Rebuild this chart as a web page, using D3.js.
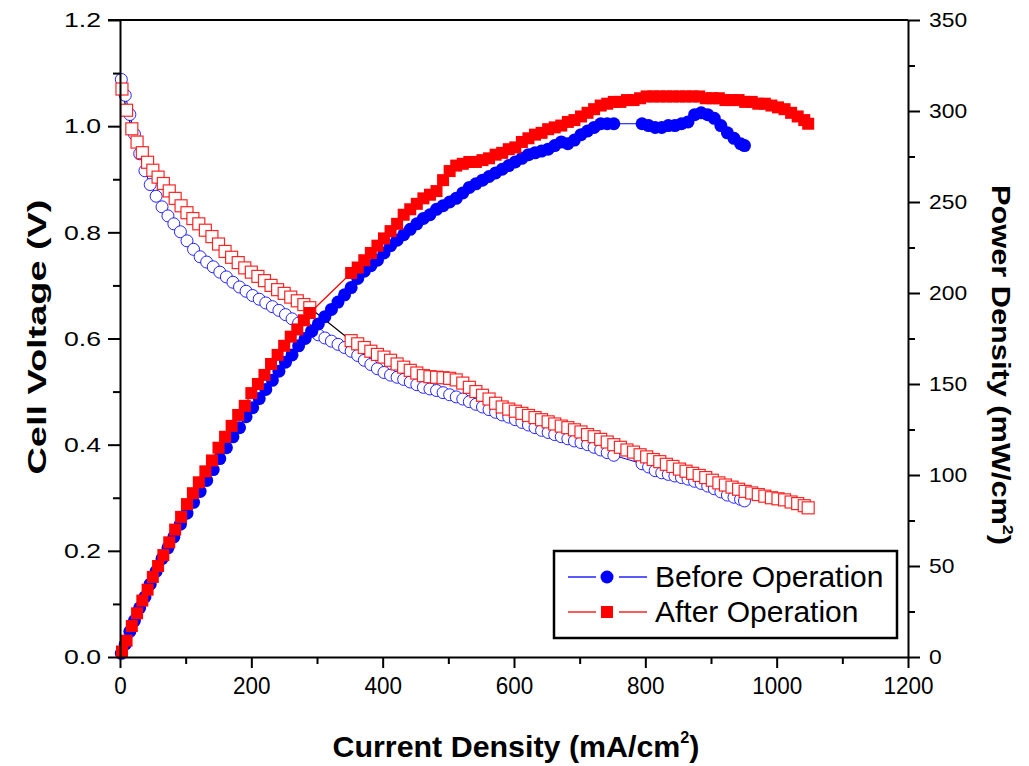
<!DOCTYPE html>
<html><head><meta charset="utf-8">
<script src="https://cdn.jsdelivr.net/npm/d3@7"></script>
<style>body{margin:0;background:#fff}svg{display:block}</style>
</head><body>
<svg id="c" width="1029" height="766"></svg>
<script>
// ---- data ----
const xTicks = [0,200,400,600,800,1000,1200];
const yLeftTicks = [0,0.2,0.4,0.6,0.8,1.0,1.2];
const yRightTicks = [0,50,100,150,200,250,300,350];
const seriesNames = ["Before Operation","After Operation"];

const beforeI = [2,8,15,22,30,38,46,55,64,73,82,92,102,112,122,132,142,152,162,172,182,192,202,212,222,232,242,252,262,272,282,292,302,312,322,332,342,352,362,372,382,392,402,412,422,432,442,452,462,472,482,492,502,512,522,532,542,552,562,572,582,592,602,612,622,632,642,652,662,672,682,692,702,712,722,732,742,752,795,805,815,825,835,845,855,865,875,885,895,905,915,925,935,945,951];
const beforeV = [1.088,1.058,1.022,0.985,0.948,0.916,0.890,0.868,0.848,0.831,
0.816,0.801,0.784,0.768,0.754,0.744,0.735,0.725,0.716,0.706,
0.697,0.689,0.681,0.674,0.667,0.660,0.653,0.645,0.637,0.629,
0.621,0.614,0.607,0.601,0.595,0.589,0.583,0.576,0.568,0.559,
0.551,0.543,0.536,0.531,0.527,0.523,0.518,0.513,0.508,0.505,
0.502,0.498,0.494,0.490,0.486,0.481,0.476,0.471,0.466,0.461,
0.456,0.452,0.447,0.442,0.437,0.432,0.427,0.423,0.419,0.415,
0.411,0.407,0.404,0.400,0.395,0.390,0.385,0.380,
0.364,0.358,0.351,0.347,0.344,0.341,0.338,0.335,0.331,0.327,
0.322,0.317,0.311,0.305,0.301,0.297,0.294];
const beforeP = [2,7,14,20,27,33,40,47,54,60,
66,73,79,85,91,97,103,109,115,121,
126,132,137,142,147,152,157,162,166,171,
175,179,183,187,191,195,199,203,208,212,
215,218,222,226,229,232,235,238,241,243,
246,248,250,252,255,258,260,262,264,266,
268,270,272,274,276,277,278,279,281,283,
282,284,287,289,291,293,293,293,
293,292,291,291,292,292,293,294,298,299,
298,296,292,288,285,282,281];

const afterI = [3,10,18,26,34,42,50,58,66,75,84,93,102,111,120,130,140,150,160,170,180,190,200,210,220,230,240,250,260,270,280,289,352,362,372,382,392,402,412,422,432,442,452,462,472,482,492,502,512,522,532,542,552,562,572,582,592,602,612,622,632,642,652,662,672,682,692,702,712,722,732,742,752,762,772,782,792,802,812,822,832,842,852,862,872,882,892,902,912,922,932,942,952,962,972,982,992,1002,1012,1022,1032,1042,1048];
const afterV = [1.070,1.030,0.995,0.970,0.950,0.932,0.917,0.904,0.892,0.878,
0.864,0.850,0.837,0.826,0.816,0.804,0.792,0.778,0.764,0.753,
0.743,0.733,0.725,0.717,0.709,0.700,0.692,0.685,0.678,0.671,
0.664,0.658,
0.596,0.590,0.583,0.576,0.570,0.565,0.559,0.552,
0.546,0.540,0.535,0.530,0.528,0.527,0.526,0.525,0.522,0.516,
0.508,0.500,0.493,0.486,0.478,0.471,0.467,0.463,0.459,0.455,
0.451,0.447,0.443,0.439,0.435,0.432,0.428,0.424,0.419,0.415,
0.410,0.405,0.400,0.395,0.390,0.386,0.381,0.377,0.372,0.368,
0.363,0.359,0.354,0.350,0.346,0.342,0.338,0.333,0.328,0.324,
0.320,0.316,0.312,0.309,0.306,0.303,0.300,0.298,0.296,0.292,
0.289,0.285,0.281];
const afterP = [3,9,17,24,31,37,44,50,56,63,
70,77,84,90,96,102,108,115,121,127,
133,138,145,150,155,161,166,171,176,180,
185,189,
211,214,218,222,226,230,234,238,
243,246,249,252,254,256,262,267,270,271,
272,272,273,274,276,277,279,280,283,285,
287,288,290,291,292,294,295,297,299,301,
303,304,305,305,306,306,307,308,308,308,
308,308,308,308,308,308,307,307,307,306,
306,306,305,305,304,304,303,302,301,299,
297,295,293];

// ---- layout ----
const svg = d3.select("#c");
svg.append("rect").attr("width",1029).attr("height",766).attr("fill","#fff");
const x = d3.scaleLinear().domain([0,1200]).range([120,908]);
const yL = d3.scaleLinear().domain([0,1.2]).range([657,20]);
const yR = d3.scaleLinear().domain([0,350]).range([657,20]);
const BLUE = "#0000ff", RED = "#ff0000";
const font = "'Liberation Sans', Arial, sans-serif";

const zipB = beforeI.map((c,i)=>({c, v:beforeV[i], p:beforeP[i]}));
const zipA = afterI.map((c,i)=>({c, v:afterV[i], p:afterP[i]}));

const g = svg.append("g");
const lineV = d3.line().x(d=>x(d.c)).y(d=>yL(d.v));
const lineP = d3.line().x(d=>x(d.c)).y(d=>yR(d.p));
g.append("path").datum(zipB).attr("d",lineV).attr("fill","none").attr("stroke",BLUE).attr("stroke-width",1);
g.append("path").datum(zipA).attr("d",lineV).attr("fill","none").attr("stroke","#000").attr("stroke-width",1.2);

// open markers (voltage)
g.append("g").selectAll("circle").data(zipB).join("circle")
  .attr("cx",d=>x(d.c)).attr("cy",d=>yL(d.v)).attr("r",6)
  .attr("fill","#fff").attr("stroke",BLUE).attr("stroke-width",1).attr("stroke-opacity",0.85);
g.append("g").selectAll("rect").data(zipA).join("rect")
  .attr("x",d=>x(d.c)-6).attr("y",d=>yL(d.v)-6).attr("width",12).attr("height",12)
  .attr("fill","#fff").attr("stroke",RED).attr("stroke-width",1.2).attr("stroke-opacity",0.85);

// power
g.append("path").datum(zipB).attr("d",lineP).attr("fill","none").attr("stroke",BLUE).attr("stroke-width",1);
g.append("path").datum(zipA).attr("d",lineP).attr("fill","none").attr("stroke",RED).attr("stroke-width",1.2);
g.append("g").selectAll("circle").data(zipB).join("circle")
  .attr("cx",d=>x(d.c)).attr("cy",d=>yR(d.p)).attr("r",6.5).attr("fill",BLUE);
g.append("g").selectAll("rect").data(zipA).join("rect")
  .attr("x",d=>x(d.c)-6).attr("y",d=>yR(d.p)-6).attr("width",12).attr("height",12).attr("fill",RED);

// ---- axes ----
function styleAxis(sel){
  sel.select(".domain").attr("stroke","#000").attr("stroke-width",2);
  sel.selectAll(".tick line").attr("stroke","#000").attr("stroke-width",2);
}
function minorStyle(s){ s.select(".domain").remove(); s.selectAll(".tick line").attr("stroke","#000").attr("stroke-width",2); }
const minorX = [100,300,500,700,900,1100];
const minorL = [0.1,0.3,0.5,0.7,0.9,1.1];
const minorR = [25,75,125,175,225,275,325];

// bottom
const ax = svg.append("g").attr("transform","translate(0,657)")
  .call(d3.axisBottom(x).tickValues(xTicks).tickSize(11).tickSizeOuter(0).tickFormat(d3.format("d")));
styleAxis(ax);
ax.selectAll("text").attr("font-family",font).attr("font-size",24).attr("fill","#000")
  .attr("y",15).attr("dy","0.9em")
  .attr("textLength",function(){return this.textContent.length*12.5;}).attr("lengthAdjust","spacingAndGlyphs");
svg.append("g").attr("transform","translate(0,657)")
  .call(d3.axisBottom(x).tickValues(minorX).tickSize(7).tickFormat("")).call(minorStyle);

// left
const al = svg.append("g").attr("transform","translate(120,0)")
  .call(d3.axisLeft(yL).tickValues(yLeftTicks).tickSize(12).tickSizeOuter(0).tickFormat(d3.format(".1f")));
styleAxis(al);
al.selectAll("text").attr("font-family",font).attr("font-size",21).attr("fill","#000").attr("x",-19)
  .attr("textLength",37).attr("lengthAdjust","spacingAndGlyphs");
svg.append("g").attr("transform","translate(120,0)")
  .call(d3.axisLeft(yL).tickValues(minorL).tickSize(7).tickFormat("")).call(minorStyle);

// right
const ar = svg.append("g").attr("transform","translate(908,0)")
  .call(d3.axisRight(yR).tickValues(yRightTicks).tickSize(12).tickSizeOuter(0).tickFormat(d3.format("d")));
styleAxis(ar);
ar.selectAll("text").attr("font-family",font).attr("font-size",21).attr("fill","#000").attr("x",21)
  .attr("textLength",function(){return this.textContent.length*12.7;}).attr("lengthAdjust","spacingAndGlyphs");
svg.append("g").attr("transform","translate(908,0)")
  .call(d3.axisRight(yR).tickValues(minorR).tickSize(7).tickFormat("")).call(minorStyle);

// top border
svg.append("line").attr("x1",x(0)-12).attr("x2",x(1200)).attr("y1",yL(1.2)).attr("y2",yL(1.2))
  .attr("stroke","#000").attr("stroke-width",2);

// ---- titles ----
const xt = svg.append("text").attr("x",516).attr("y",757).attr("text-anchor","middle")
  .attr("font-family",font).attr("font-weight","bold").attr("font-size",30).attr("fill","#000")
  .attr("textLength",367).attr("lengthAdjust","spacingAndGlyphs");
xt.append("tspan").text("Current Density (mA/cm");
xt.append("tspan").text("2").attr("font-size",16).attr("dy",-14);
xt.append("tspan").text(")").attr("dy",14);

svg.append("text").attr("transform","translate(46,337) rotate(-90)").attr("text-anchor","middle")
  .attr("font-family",font).attr("font-weight","bold").attr("font-size",26).attr("fill","#000")
  .attr("textLength",275).attr("lengthAdjust","spacingAndGlyphs")
  .text("Cell Voltage (V)");

const rt = svg.append("text").attr("transform","translate(992,365) rotate(90)").attr("text-anchor","middle")
  .attr("font-family",font).attr("font-weight","bold").attr("font-size",26).attr("fill","#000")
  .attr("textLength",360).attr("lengthAdjust","spacingAndGlyphs");
rt.append("tspan").text("Power Density (mW/cm");
rt.append("tspan").text("2").attr("font-size",15).attr("dy",-11);
rt.append("tspan").text(")").attr("dy",11);

// ---- legend ----
const lg = svg.append("g");
lg.append("rect").attr("x",554).attr("y",551).attr("width",343).attr("height",87)
  .attr("fill","#fff").attr("stroke","#000").attr("stroke-width",2.5);
seriesNames.forEach((name,i)=>{
  const yy = 577 + i*35;
  const col = i===0?BLUE:RED;
  lg.append("line").attr("x1",568).attr("x2",596).attr("y1",yy).attr("y2",yy).attr("stroke",col).attr("stroke-width",1.3);
  lg.append("line").attr("x1",619).attr("x2",647).attr("y1",yy).attr("y2",yy).attr("stroke",col).attr("stroke-width",1.3);
  if(i===0) lg.append("circle").attr("cx",607).attr("cy",yy).attr("r",6.5).attr("fill",col);
  else lg.append("rect").attr("x",601).attr("y",yy-6).attr("width",12).attr("height",12).attr("fill",col);
  lg.append("text").attr("x",655).attr("y",yy+10).attr("font-family",font).attr("font-size",30)
    .attr("fill","#000").text(name);
});
</script>
</body></html>
